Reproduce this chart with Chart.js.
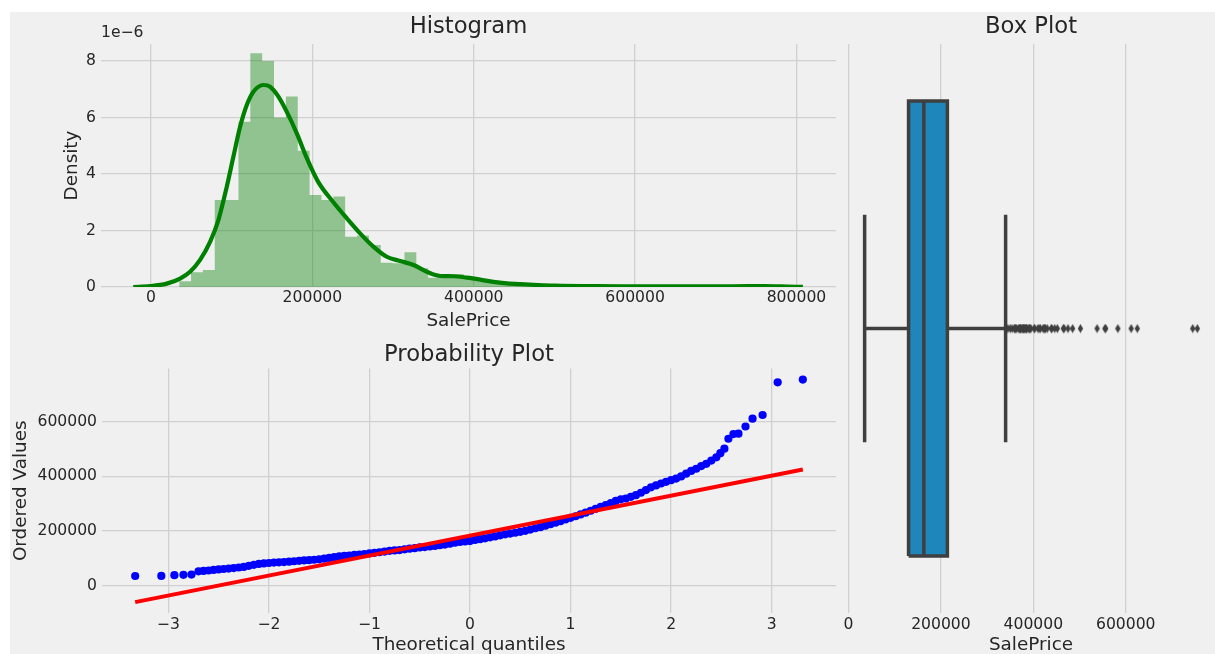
<!DOCTYPE html>
<html>
<head>
<meta charset="UTF-8">
<title>SalePrice distribution</title>
<script src="https://cdn.jsdelivr.net/npm/chart.js@4"></script>
<style>
  html,body{margin:0;padding:0;background:#fff;overflow:hidden;width:1215px;height:654px;}
  #fig{position:absolute;left:10px;top:12px;width:1205px;height:642px;background:#f0f0f0;}
  canvas{position:absolute;}
  #hist{left:0;top:0;}
  #prob{left:0;top:332px;}
  #box{left:830px;top:0;}
</style>
</head>
<body>
<div id="fig"></div>
<canvas id="hist" width="845" height="332"></canvas>
<canvas id="prob" width="845" height="324"></canvas>
<canvas id="box" width="389" height="656"></canvas>
<script>
// ---- histogram (density, in units of 1e-6) ----
const histBinStart = 34900;
const histBinWidth = 14696;
const histHeights = [0.2, 0.52, 0.6, 3.08, 3.08, 5.85, 8.27, 8.0, 6.0, 6.74,
  4.82, 3.26, 3.08, 3.2, 1.78, 1.82, 1.49, 0.86, 0.84, 1.23,
  0.66, 0.33, 0.4, 0.45, 0.28, 0.23, 0.23, 0.14, 0.05, 0.14,
  0.05, 0.05, 0, 0, 0.05, 0.09, 0, 0.05, 0, 0.05,
  0.05, 0, 0, 0, 0, 0, 0, 0, 0.09];
const kdeX = [-22000, -1000, 19500, 36000, 48400, 60800, 73200, 83500, 93900, 102000,
  110400, 118700, 126900, 139300, 147600, 157900, 168300, 180700, 193100, 207000,
  226000, 242700, 259100, 275600, 292200, 308700, 325300, 341800, 358400, 374800,
  391400, 408000, 424400, 441000, 457500, 480000, 500000, 550000, 600000, 650000,
  700000, 740000, 760000, 790000, 808000];
const kdeY = [0.0, 0.03, 0.12, 0.3, 0.54, 0.96, 1.6, 2.37, 3.55, 4.6,
  5.67, 6.44, 6.91, 7.15, 7.09, 6.74, 6.2, 5.44, 4.56, 3.73,
  3.0, 2.43, 1.9, 1.43, 1.07, 0.92, 0.78, 0.54, 0.39, 0.38,
  0.33, 0.26, 0.18, 0.13, 0.1, 0.07, 0.05, 0.03, 0.025, 0.02,
  0.02, 0.03, 0.03, 0.015, 0.005];
const histXTicks = [0, 200000, 400000, 600000, 800000];
const histYTicks = [0, 2, 4, 6, 8];
const histOffsetText = '1e\u22126';

// ---- probability plot ----
const probQ = [-3.33, -3.07, -2.94, -2.85, -2.77,
  -2.70, -2.65, -2.60, -2.55, -2.50, -2.45, -2.40, -2.35, -2.30, -2.25,
  -2.20, -2.15, -2.10, -2.05, -2.00, -1.95, -1.90, -1.85, -1.80, -1.75,
  -1.70, -1.65, -1.60, -1.55, -1.50, -1.45, -1.40, -1.35, -1.30, -1.25,
  -1.20, -1.15, -1.10, -1.05, -1.00, -0.95, -0.90, -0.85, -0.80, -0.75,
  -0.70, -0.65, -0.60, -0.55, -0.50, -0.45, -0.40, -0.35, -0.30, -0.25,
  -0.20, -0.15, -0.10, -0.05, 0.00, 0.05, 0.10, 0.15, 0.20, 0.25,
  0.30, 0.35, 0.40, 0.45, 0.50, 0.55, 0.60, 0.65, 0.70, 0.75,
  0.80, 0.85, 0.90, 0.95, 1.00, 1.05, 1.10, 1.15, 1.20, 1.25,
  1.30, 1.35, 1.40, 1.45, 1.50, 1.55, 1.60, 1.65, 1.70, 1.75,
  1.80, 1.85, 1.90, 1.95, 2.00, 2.05, 2.10, 2.15, 2.20, 2.25,
  2.30, 2.35, 2.40, 2.45,
  2.49, 2.53, 2.57, 2.62, 2.67, 2.74, 2.81, 2.91, 3.06, 3.31];
const probV = [34900, 35300, 37900, 39300, 40000,
  52000, 53500, 55000, 57000, 59000, 60500, 62000, 64000, 66000, 68000,
  72000, 76000, 79000, 81000, 82500, 84000, 85000, 86000, 87500, 89000,
  90500, 92000, 93000, 94500, 96000, 98500, 101000, 104000, 106500, 108500,
  110000, 112000, 113500, 115500, 118000, 120000, 122000, 124500, 127000, 128500,
  130000, 132500, 135000, 137000, 139500, 141000, 143000, 145000, 148000, 150000,
  153500, 157000, 159500, 161500, 163000, 167000, 170000, 173000, 176500, 180000,
  184000, 187500, 190500, 193500, 197000, 200500, 205000, 210000, 214000, 219500,
  225000, 230000, 236000, 242000, 248000, 254000, 260500, 267000, 274000, 281000,
  288000, 294500, 302000, 310000, 316000, 319000, 325000, 331000, 340000, 350000,
  360000, 367000, 374000, 380000, 386000, 392000, 400000, 410000, 420000, 428000,
  438000, 446000, 458000, 470000,
  485000, 501800, 538000, 555000, 556600, 582900, 611700, 625000, 745000, 755000];
const fitQ = [-3.33, 3.31];
const fitV = [-61000, 425500];
const probXTicks = [-3, -2, -1, 0, 1, 2, 3];
const probYTicks = [0, 200000, 400000, 600000];

// ---- box plot ----
const boxQuartiles = [129975, 163000, 214000];
const boxWhiskers = [34900, 340000];
const boxOutliers = [341000, 345000, 350000, 354000, 359100, 360000, 361919, 363000, 367294, 369900,
  370878, 372402, 372500, 375000, 377426, 377500, 378500, 380000, 381000, 383970,
  384000, 385000, 386250, 390000, 392000, 392500, 394617, 402000, 402861, 410000,
  412500, 415298, 421250, 423000, 424870, 426000, 430000, 438780, 440000, 446261,
  451950, 465000, 466500, 475000, 485000, 501837, 538000, 555000, 556581, 582933,
  611657, 625000, 745000, 755000];
const boxXTicks = [0, 200000, 400000, 600000];

// ---- styling ----
const TEXT = '#262626';
const GRID = '#d0d0d0';
const BOX_LINE = '#3f3f3f';
const BOX_FILL = '#1f86bb';
const BOX_HALF = 0.4;
const CAP_HALF = 0.2;
const TICK_SIZE = 15.6;
const LABEL_SIZE = 18.4;
const TITLE_SIZE = 22.7;

Chart.defaults.font.family = '"DejaVu Sans", sans-serif';
Chart.defaults.color = TEXT;

const fmt = v => (v < 0 ? '\u2212' + Math.abs(v) : String(v));

function xAxis(min, max, ticks, title, height, pad) {
  return {
    type: 'linear', position: 'bottom', min, max, offset: false,
    afterBuildTicks: s => { s.ticks = ticks.map(v => ({ value: v })); },
    afterFit: s => { s.height = height; },
    grid: { color: GRID, lineWidth: 1.3, drawTicks: false, offset: false },
    border: { display: false },
    ticks: { color: TEXT, font: { size: TICK_SIZE }, padding: pad, autoSkip: false, maxRotation: 0, callback: fmt },
    title: { display: true, text: title, color: TEXT, font: { size: LABEL_SIZE }, padding: 0 }
  };
}

function yAxis(min, max, ticks, title, width, titlePad) {
  return {
    type: 'linear', position: 'left', min, max,
    afterBuildTicks: s => { s.ticks = ticks.map(v => ({ value: v })); },
    afterFit: s => { s.width = width; },
    grid: { color: GRID, lineWidth: 1.3, drawTicks: false },
    border: { display: false },
    ticks: { color: TEXT, font: { size: TICK_SIZE }, padding: 5, autoSkip: false, callback: fmt },
    title: { display: true, text: title, color: TEXT, font: { size: LABEL_SIZE }, padding: { top: titlePad, bottom: 0 } }
  };
}

function titleOpts(text, top, bottom) {
  return { display: true, text, fullSize: false, color: TEXT,
    font: { size: TITLE_SIZE, weight: 'normal' }, padding: { top, bottom } };
}

const baseOpts = { responsive: false, animation: false, events: [], devicePixelRatio: 1 };

// scale multiplier drawn above the density axis
const offsetLabel = {
  id: 'offsetLabel',
  afterDraw(chart) {
    const { ctx, chartArea } = chart;
    ctx.save();
    ctx.font = TICK_SIZE + 'px "DejaVu Sans", sans-serif';
    ctx.fillStyle = TEXT;
    ctx.textBaseline = 'middle';
    ctx.textAlign = 'left';
    ctx.fillText(histOffsetText, chartArea.left, chartArea.top - 11);
    ctx.restore();
  }
};

// histogram as a filled step outline (bin left edge -> height), closed at the last edge
const histSteps = histHeights.map((h, i) => ({ x: histBinStart + i * histBinWidth, y: h }));
histSteps.push({ x: histBinStart + histHeights.length * histBinWidth, y: 0 });
const kdePts = kdeX.map((x, i) => ({ x, y: kdeY[i] }));

new Chart(document.getElementById('hist'), {
  type: 'scatter',
  data: {
    datasets: [
      { data: kdePts, showLine: true, borderColor: '#008000', borderWidth: 4.2, pointRadius: 0,
        cubicInterpolationMode: 'monotone', fill: false, order: 0 },
      { data: histSteps, showLine: true, stepped: 'before', borderWidth: 0, borderColor: 'transparent',
        pointRadius: 0, backgroundColor: 'rgba(0,128,0,0.4)', fill: 'origin', order: 1 }
    ]
  },
  options: Object.assign({}, baseOpts, {
    layout: { padding: { left: 0, right: 9, top: 0, bottom: 0 } },
    plugins: { legend: { display: false }, tooltip: { enabled: false },
      title: titleOpts('Histogram', 13.4, 3.4) },
    scales: {
      x: xAxis(-62000, 849000, histXTicks, 'SalePrice', 45, 2),
      y: yAxis(0, 8.6, histYTicks, 'Density', 101, 61)
    }
  }),
  plugins: [offsetLabel]
});

// probability plot
const probPts = probQ.map((q, i) => ({ x: q, y: probV[i] }));
const fitPts = fitQ.map((q, i) => ({ x: q, y: fitV[i] }));

new Chart(document.getElementById('prob'), {
  type: 'scatter',
  data: {
    datasets: [
      { data: fitPts, showLine: true, borderColor: '#ff0000', borderWidth: 4, pointRadius: 0, order: 0 },
      { data: probPts, pointRadius: 4.1, pointBackgroundColor: '#0000ff', pointBorderWidth: 0,
        borderWidth: 0, order: 1 }
    ]
  },
  options: Object.assign({}, baseOpts, {
    layout: { padding: { left: 0, right: 9, top: 0, bottom: 0 } },
    plugins: { legend: { display: false }, tooltip: { enabled: false },
      title: titleOpts('Probability Plot', 9.2, 0) },
    scales: {
      x: xAxis(-3.66, 3.64, probXTicks, 'Theoretical quantiles', 43, 3),
      y: yAxis(-100750, 795750, probYTicks, 'Ordered Values', 102, 10.2)
    }
  })
});

// box plot
const diamond = document.createElement('canvas');
diamond.width = 7; diamond.height = 10;
(() => {
  const c = diamond.getContext('2d');
  c.fillStyle = BOX_LINE;
  c.beginPath();
  c.moveTo(3.5, 0.5); c.lineTo(6.2, 5); c.lineTo(3.5, 9.5); c.lineTo(0.8, 5);
  c.closePath(); c.fill();
})();

const [q1, med, q3] = boxQuartiles;
const [wLo, wHi] = boxWhiskers;
const seg = (pts, order) => ({ data: pts.map(([x, y]) => ({ x, y })), showLine: true,
  borderColor: BOX_LINE, borderWidth: 3.5, pointRadius: 0, fill: false, order });

new Chart(document.getElementById('box'), {
  type: 'scatter',
  data: {
    datasets: [
      { data: boxOutliers.map(x => ({ x, y: 0 })), pointStyle: diamond, pointRadius: 4, order: 0 },
      seg([[q1, -BOX_HALF], [q3, -BOX_HALF], [q3, BOX_HALF], [q1, BOX_HALF], [q1, -BOX_HALF]], 1),
      seg([[med, -BOX_HALF], [med, BOX_HALF]], 1),
      seg([[wLo, 0], [q1, 0]], 1),
      seg([[q3, 0], [wHi, 0]], 1),
      seg([[wLo, -CAP_HALF], [wLo, CAP_HALF]], 1),
      seg([[wHi, -CAP_HALF], [wHi, CAP_HALF]], 1),
      { data: [{ x: q1, y: BOX_HALF }, { x: q3, y: BOX_HALF }], showLine: true, borderWidth: 0,
        borderColor: 'transparent', pointRadius: 0, backgroundColor: BOX_FILL,
        fill: { value: -BOX_HALF }, order: 5 }
    ]
  },
  options: Object.assign({}, baseOpts, {
    layout: { padding: { left: 18, right: 0, top: 0, bottom: 0 } },
    plugins: { legend: { display: false }, tooltip: { enabled: false },
      title: titleOpts('Box Plot', 13.4, 3.4) },
    scales: {
      x: xAxis(-1100, 791000, boxXTicks, 'SalePrice', 43, 3),
      y: { type: 'linear', min: -0.5, max: 0.5, display: false }
    }
  })
});
</script>
</body>
</html>
